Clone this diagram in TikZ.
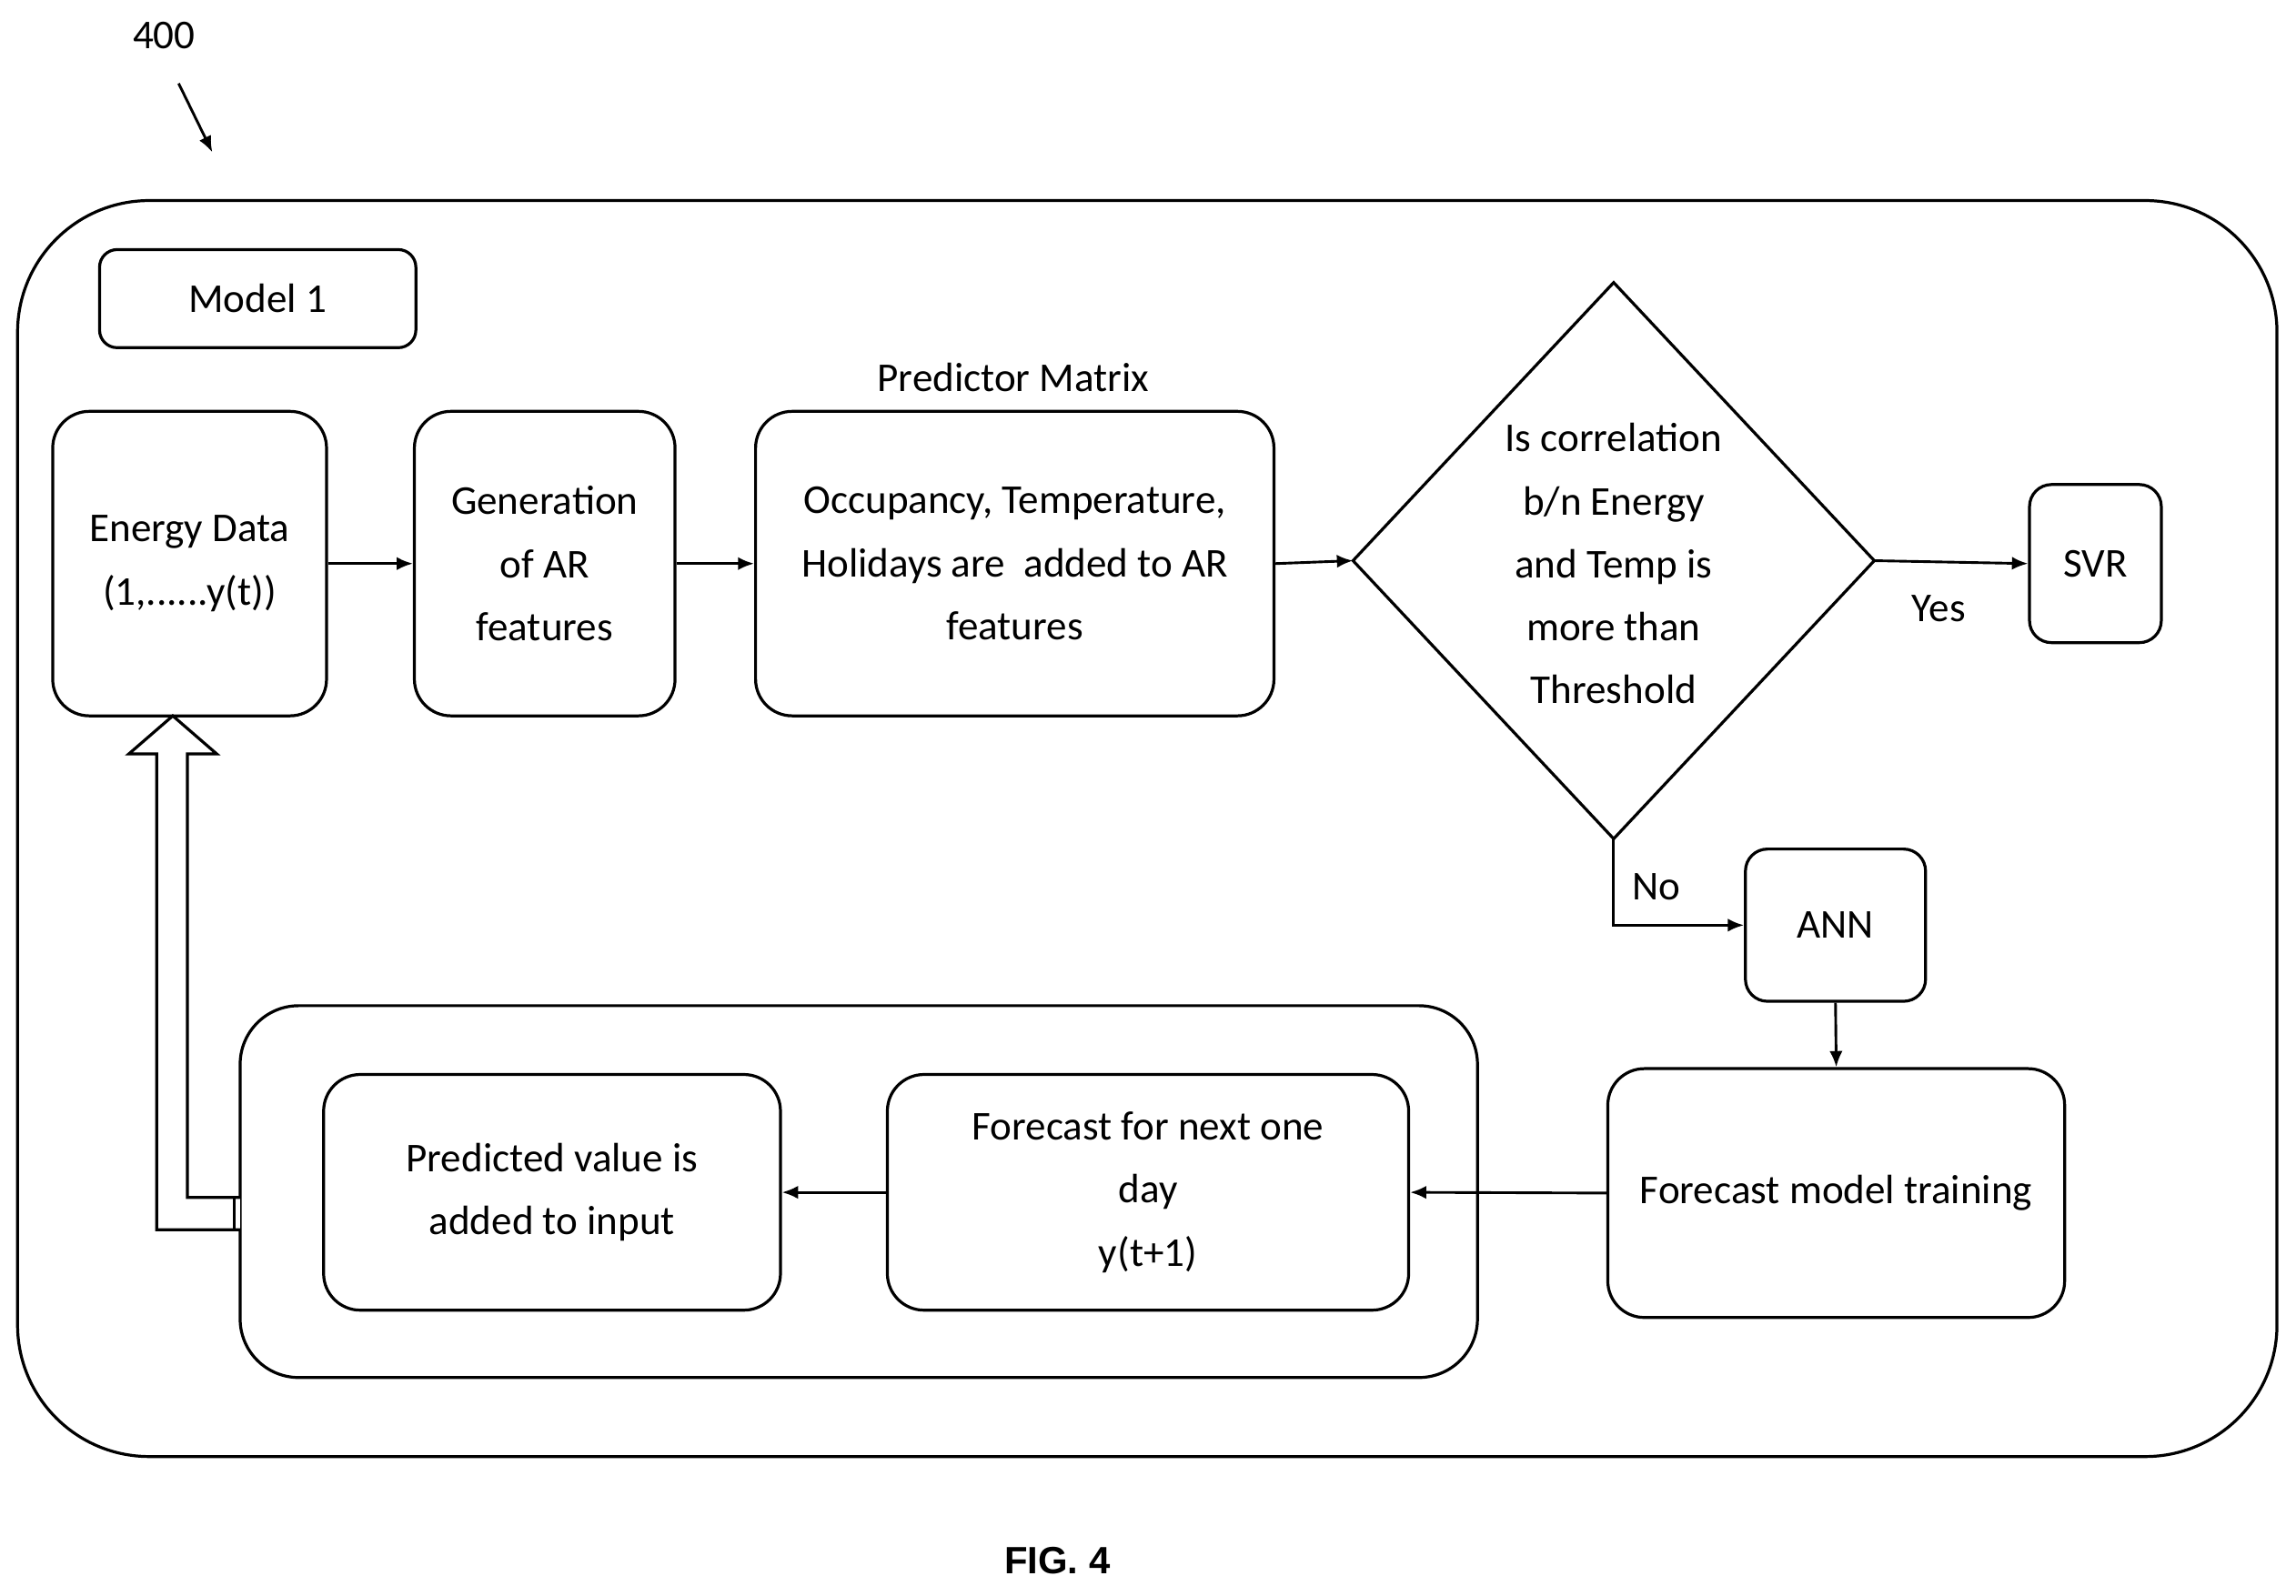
\documentclass[tikz,border=0pt]{standalone}
\usepackage{fontspec}
\setmainfont{Carlito}
\newfontfamily\figfont{Liberation Sans}
\usetikzlibrary{arrows.meta}
\begin{document}
\begin{tikzpicture}[x=1pt,y=-1pt,
  box/.style={draw,line width=2pt,rounded corners=25pt,align=center,font=\fontsize{28}{43}\selectfont},
  lbl/.style={font=\fontsize{28}{34}\selectfont},
  arr/.style={line width=1.8pt,-{Latex[length=11pt,width=9pt]}}]
\useasboundingbox (0,0) rectangle (1568,1090);
\node[lbl] (n400) at (112,24) {400};
\coordinate (a1) at (122,57); \coordinate (a2) at (145,104);
\draw[arr] (a1) -- (a2);
\draw[line width=2pt,rounded corners=90pt] (12,137) rectangle (1555,995);
\draw[line width=2pt,rounded corners=40pt] (164,687) rectangle (1009,941);
\node[box,rounded corners=12pt,minimum width=216pt,minimum height=67pt] (m1) at (176,204) {Model 1};
\node[box,minimum width=187pt,minimum height=208pt] (ed) at (129.5,385) {Energy Data\\(1,......y(t))};
\node[box,minimum width=178pt,minimum height=208pt] (gen) at (372,385) {Generation\\of AR\\features};
\node[box,minimum width=354pt,minimum height=208pt] (pm) at (693,385) {Occupancy, Temperature,\\Holidays are\ \ added to AR\\features};
\node[lbl] (pml) at (692,258) {Predictor Matrix};
\draw[line width=2pt] (924,383) -- (1102,193) -- (1280,383) -- (1102,573) -- cycle;
\coordinate (dl) at (924,383); \coordinate (dr) at (1280,383); \coordinate (db) at (1102,573);
\node[align=center,font=\fontsize{28}{43}\selectfont] (dt) at (1102,385) {Is correlation\\b/n Energy\\and Temp is\\more than\\Threshold};
\node[box,rounded corners=15pt,minimum width=90pt,minimum height=108pt] (svr) at (1431,385) {SVR};
\node[box,rounded corners=15pt,minimum width=123pt,minimum height=104pt] (ann) at (1253.5,632) {ANN};
\node[box,minimum width=312pt,minimum height=170pt] (fmt) at (1254,815) {Forecast model training};
\node[box,minimum width=356pt,minimum height=161pt] (fc) at (784,814.5) {Forecast for next one\\day\\y(t+1)};
\node[box,minimum width=312pt,minimum height=161pt] (pv) at (377,814.5) {Predicted value is\\added to input};
\node[lbl] (yes) at (1324,416) {Yes};
\node[lbl] (no) at (1131,606) {No};
\draw[arr] (ed.east) -- (gen.west);
\draw[arr] (gen.east) -- (pm.west);
\draw[arr] (pm.east) -- (dl);
\draw[arr] (dr) -- (svr.west);
\draw[arr] (db) |- (ann.west);
\draw[arr] (ann.south) -- (fmt.north);
\draw[arr] (fmt.west) -- (fc.east);
\draw[arr] (fc.west) -- (pv.west -| pv.east);
\draw[line width=2pt,fill=white] (164,840) -- (107,840) -- (107,515) -- (88,515) -- (118,489) -- (148,515) -- (128,515) -- (128,818) -- (164,818);
\draw[line width=2pt] (160,818) -- (160,840);
\node[font=\figfont\bfseries\fontsize{26}{30}\selectfont] (fig) at (722,1066) {FIG. 4};
\end{tikzpicture}
\end{document}
